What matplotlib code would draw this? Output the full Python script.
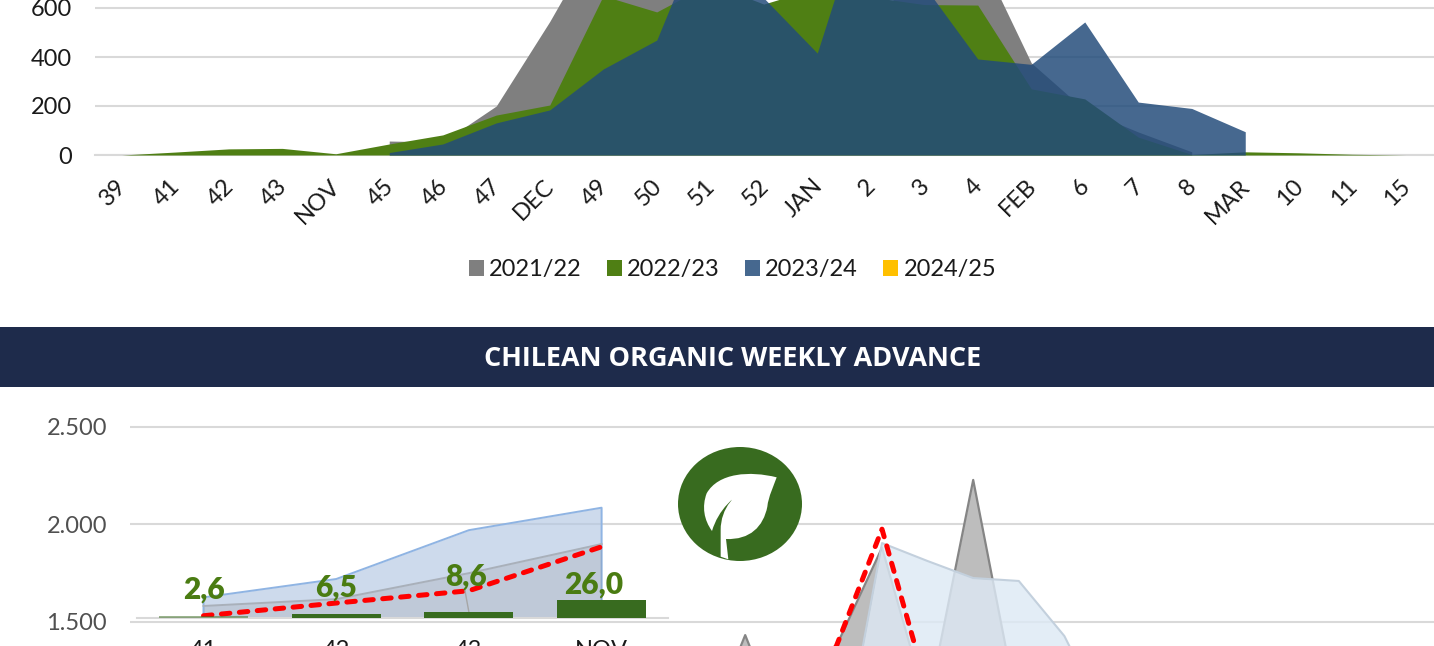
import numpy as np
import matplotlib
matplotlib.use("Agg")
import matplotlib.pyplot as plt
from matplotlib.patches import Ellipse, PathPatch, Patch, Rectangle
from matplotlib.path import Path
from matplotlib.transforms import ScaledTranslation

nan = float("nan")
W, H = 1434, 646

# ---------- data: upper chart ----------
weeks = ["39","41","42","43","NOV","45","46","47","DEC","49","50","51","52","JAN",
         "2","3","4","FEB","6","7","8","MAR","10","11","15"]
s2122 = [nan,nan,nan,nan,nan,57,53,200,545,927,700,640,600,540,570,720,832,376,184,94,13,nan,nan,nan,nan]
s2223 = [0,12,25,27,5,45,82,163,204,650,584,700,616,682,645,614,612,270,229,73,2,13,9,3,0]
s2324 = [nan,nan,nan,nan,nan,10,45,131,184,351,469,1000,641,416,1100,690,392,370,543,216,190,95,nan,nan,nan]
s2425 = [nan]*25
season_names = ["2021/22","2022/23","2023/24","2024/25"]
top_yticks = [0,200,400,600]

# ---------- data: lower chart ----------
organic_weeks = ["41","42","43","NOV"]
organic_bars = [2.6,6.5,8.6,26.0]
organic_labels = ["2,6","6,5","8,6","26,0"]
early_blue = [1626,1720,1970,2085]
early_grey = [1582,1617,1750,1899]
early_red = [1532,1597,1660,1885]
late_grey = [850,1433,850,1377,1880,1065,2227,1029,850,800]
late_blue = [nan,nan,nan,645,1904,1812,1725,1710,1428,960]
late_red = [1050,1150,1050,1377,1975,1152,1100,nan,nan,nan]
low_yticks = [1500,2000,2500]
low_ylabels = ["1.500","2.000","2.500"]

GRID = "#D9D9D9"
TXT = "#1a1a1a"
FONT = "Lato"
RED_DASH = (0, (1.7, 1.9))
plt.rcParams["font.family"] = [FONT, "DejaVu Sans"]

fig = plt.figure(figsize=(W/100, H/100), dpi=100, facecolor="white")

def rect(l, t, r, b):
    return [l/W, 1-b/H, (r-l)/W, (b-t)/H]

# ---------- upper chart ----------
ax = fig.add_axes(rect(95, 0, 1434, 155))
step = 53.5
ax.set_xlim(-0.5, -0.5+(1434-95)/step)
ax.set_ylim(0, 155/0.245)
x = np.arange(len(weeks))
cols = ["#7F7F7F", "#4F7F14", "#224B7A", "#FFC000"]
alphas = [1, 1, 0.84, 1]
for vals, c, a in zip([s2122, s2223, s2324, s2425], cols, alphas):
    y = np.array(vals, float)
    ax.fill_between(x, 0, y, where=~np.isnan(y), color=c, alpha=a, lw=0, zorder=3)
for s in ["top","left","right"]:
    ax.spines[s].set_visible(False)
ax.spines["bottom"].set_color(GRID)
ax.spines["bottom"].set_linewidth(1.5)
ax.yaxis.grid(True, color=GRID, lw=1.5, zorder=0)
ax.set_axisbelow(True)
ax.set_yticks(top_yticks)
ax.tick_params(axis="y", length=0, pad=16.5, labelsize=17, labelcolor=TXT)
ax.set_xticks(x)
ax.set_xticklabels(weeks, rotation=45, ha="right", va="center", rotation_mode="anchor", fontsize=17, color=TXT)
ax.tick_params(axis="x", length=0, pad=20)
for lab in ax.get_xticklabels():
    lab.set_transform(lab.get_transform() + ScaledTranslation(1.5/100, 0, fig.dpi_scale_trans))

handles = [Patch(facecolor=c, alpha=a, lw=0) for c, a in zip(cols, alphas)]
fig.legend(handles, season_names, loc="center", bbox_to_anchor=(732.5/W, 1-270/H), ncol=4, frameon=False,
           fontsize=17, handlelength=0.64, handleheight=0.64, handletextpad=0.22, columnspacing=1.06,
           labelcolor=TXT, borderpad=0, borderaxespad=0)

# ---------- overlay in pixel coordinates: header band and logo ----------
ov = fig.add_axes([0, 0, 1, 1], zorder=5)
ov.set_xlim(0, W); ov.set_ylim(H, 0); ov.axis("off"); ov.patch.set_alpha(0)
ov.add_patch(Rectangle((0, 327), W, 60, color="#1E2B4B", lw=0))
ov.text(733, 359.5, "CHILEAN ORGANIC WEEKLY ADVANCE", color="white", ha="center", va="center",
        fontsize=19.45, fontweight="bold", family="Open Sans")
ov.add_patch(Ellipse((740, 504), 124, 114, color="#386B1F", lw=0))
def zp(px, py):
    return (650+px/3, 430+py/3)
verts = [(380,142),(300,122),(205,128),(170,190),(155,230),(162,270),(186,303),
         (205,240),(250,195),(310,168),(255,185),(212,235),(212,300),
         (212,380),(235,388),(228,327),(300,330),(340,290),(352,230),(355,200),(372,165),(380,142),(380,142)]
codes = [Path.MOVETO,Path.CURVE4,Path.CURVE4,Path.CURVE4,Path.CURVE4,Path.CURVE4,Path.CURVE4,
         Path.CURVE4,Path.CURVE4,Path.CURVE4,Path.CURVE4,Path.CURVE4,Path.CURVE4,
         Path.LINETO,Path.LINETO,Path.LINETO,Path.CURVE4,Path.CURVE4,Path.CURVE4,Path.CURVE4,Path.CURVE4,Path.CURVE4,Path.CLOSEPOLY]
ov.add_patch(PathPatch(Path([zp(*v) for v in verts], codes), color="white", lw=0))

# ---------- lower chart: value grid and late season ----------
pxv = 97.7/500
axg = fig.add_axes(rect(130, 387, 1434, 646))
axg.set_ylim(1500-24/pxv, 1500+235/pxv)
lstep = 45.6
lx = np.arange(len(late_grey))
axg.set_xlim((130-699.6)/lstep, (1434-699.6)/lstep)
g = np.array(late_grey, float); b = np.array(late_blue, float); r = np.array(late_red, float)
axg.fill_between(lx, 0, g, color="#BDBDBD", lw=0, zorder=2)
axg.plot(lx, g, color="#858585", lw=1.6, zorder=2.1)
axg.fill_between(lx, 0, b, where=~np.isnan(b), color="#DDE9F5", alpha=0.82, lw=0, zorder=3)
axg.plot(lx, b, color="#C3D0DD", lw=1.5, zorder=3.1)
axg.plot(lx, r, color="#FF0000", lw=3.6, ls=RED_DASH, dash_capstyle="round", zorder=4)
axg.set_xticks([])
axg.set_yticks(low_yticks); axg.set_yticklabels(low_ylabels)
axg.yaxis.grid(True, color=GRID, lw=1.5, zorder=0)
axg.set_axisbelow(True)
axg.tick_params(axis="y", length=0, pad=16.5, labelsize=17, labelcolor="#505050")
for s in axg.spines.values():
    s.set_visible(False)

# ---------- lower chart: early season ----------
axe = fig.add_axes(rect(137, 387, 668, 646), sharey=axg, zorder=3)
axe.patch.set_alpha(0)
estep = 132.7
ex = np.arange(4)
axe.set_xlim((137-203.5)/estep, (668-203.5)/estep)
base = 1500+4/pxv
def closed(v):
    return [0, *ex, 3], [base, *v, base]
axe.fill_between(ex, base, early_blue, color="#B3C7E3", alpha=0.65, lw=0, zorder=2)
axe.plot(*closed(early_blue), color="#8FB4E3", lw=1.4, zorder=2.1)
axe.fill_between(ex, base, early_grey, color="#808080", alpha=0.18, lw=0, zorder=3)
axe.plot(ex, early_grey, color="#A9B0BA", lw=1.4, zorder=3.1)
axe.plot(ex, early_red, color="#FF0000", lw=3.6, ls=RED_DASH, dash_capstyle="round", zorder=4)
axe.axis("off")

# ---------- lower chart: bars ----------
axb = fig.add_axes(rect(137, 500, 668, 618), zorder=4)
axb.patch.set_alpha(0)
axb.set_xlim((137-203.5)/estep, (668-203.5)/estep)
axb.set_ylim(0, 118/0.69)
bars = axb.bar(ex, organic_bars, width=0.67, color="#386B1F", lw=0, zorder=3)
for k, bar in enumerate(bars):
    if k == 0:
        bar.set_alpha(0.5)
lab_off = [(0, 27), (0, 26), (-3, 36), (-8, 16)]
for xi, v, t, off in zip(ex, organic_bars, organic_labels, lab_off):
    axb.annotate(t, (xi, v), xytext=(off[0]*0.72, off[1]*0.72), textcoords="offset points", ha="center", va="center",
                 color="#4A7C12", fontsize=21.5, fontweight="heavy", zorder=5)
axb.plot([2-0.03, 2], [40, organic_bars[2]], color="#A6A6A6", lw=1, zorder=2)
for s in ["top","left","right"]:
    axb.spines[s].set_visible(False)
axb.spines["bottom"].set_color(GRID); axb.spines["bottom"].set_linewidth(1.5)
axb.set_yticks([])
axb.set_xticks(ex); axb.set_xticklabels(organic_weeks, fontsize=17, color=TXT)
axb.tick_params(axis="x", length=0, pad=15.5)

fig.savefig("out.png", dpi=100)
